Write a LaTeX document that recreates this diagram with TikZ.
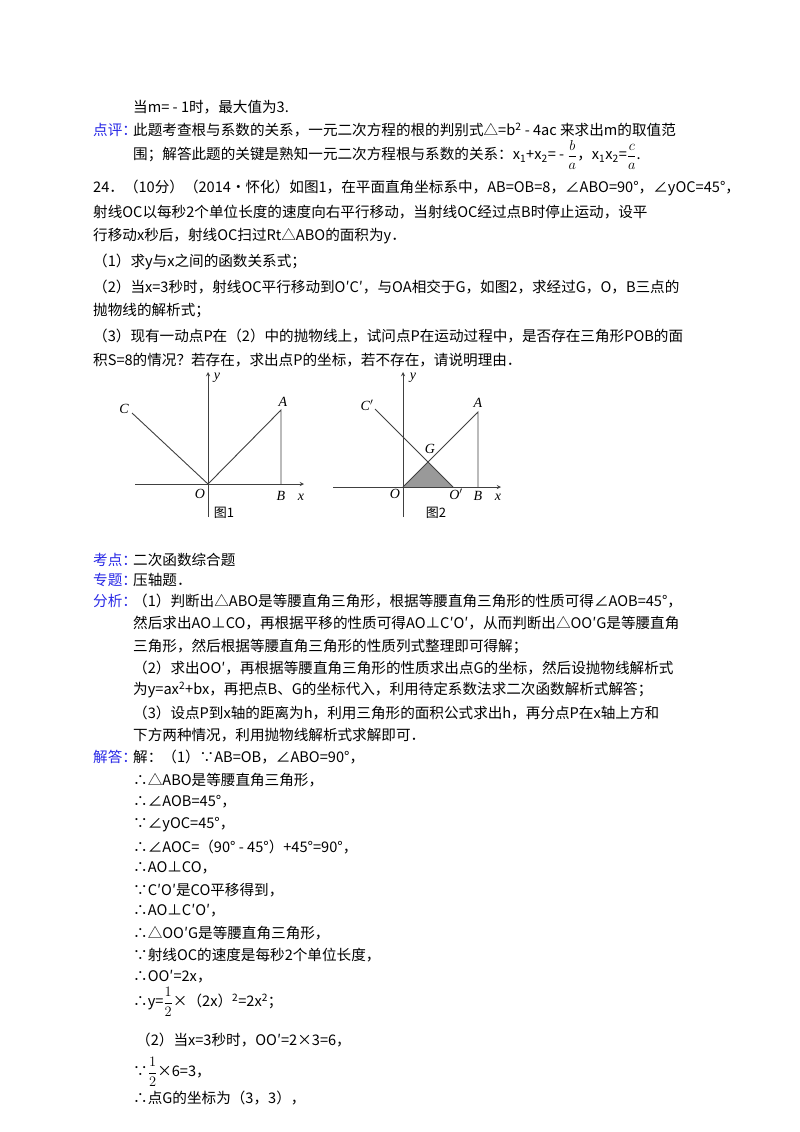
\documentclass[tikz,border=0pt]{standalone}
\usepackage{fontspec}
\setmainfont{Noto Sans CJK SC}
\newfontfamily\lat{Liberation Serif}
\definecolor{lab}{RGB}{40,40,230}
\tikzset{t/.style={anchor=west,inner sep=0pt,font=\fontsize{14.6}{16}\selectfont},
 lb/.style={t,text=lab},
 fl/.style={inner sep=0pt,font=\fontsize{14}{16}\lat\itshape},
 ax/.style={draw=black!75,line width=0.9pt,-stealth},
 ln/.style={draw=black!75,line width=0.9pt}}
\newcommand{\fr}[2]{$\displaystyle\frac{#1}{#2}$}
\begin{document}
\begin{tikzpicture}[x=1pt,y=-1pt]
\useasboundingbox[fill=white] (0,0) rectangle (800,1132);
\node[t] (l1) at (133,107) {当m= - 1时，最大值为3.};
\node[lb] (p1) at (93,130) {点评：};
\node[t] (l2) at (133,130) {此题考查根与系数的关系，一元二次方程的根的判别式△=b\textsuperscript{2} - 4ac 来求出m的取值范};
\node[t] (l3) at (133,155) {围；解答此题的关键是熟知一元二次方程根与系数的关系：x\textsubscript{1}+x\textsubscript{2}= - \fr{b}{a}，x\textsubscript{1}x\textsubscript{2}=\fr{c}{a}.};
\node[t] (q1) at (93,188) {24．（10分）（2014•怀化）如图1，在平面直角坐标系中，AB=OB=8，∠ABO=90°，∠yOC=45°，};
\node[t] (q2) at (93,212) {射线OC以每秒2个单位长度的速度向右平行移动，当射线OC经过点B时停止运动，设平};
\node[t] (q3) at (93,236) {行移动x秒后，射线OC扫过Rt△ABO的面积为y．};
\node[t] (q4) at (93,262) {（1）求y与x之间的函数关系式；};
\node[t] (q5) at (93,287) {（2）当x=3秒时，射线OC平行移动到O′C′，与OA相交于G，如图2，求经过G，O，B三点的};
\node[t] (q6) at (93,311) {抛物线的解析式；};
\node[t] (q7) at (93,336) {（3）现有一动点P在（2）中的抛物线上，试问点P在运动过程中，是否存在三角形POB的面};
\node[t] (q8) at (93,360) {积S=8的情况？若存在，求出点P的坐标，若不存在，请说明理由．};
% figure 1
\coordinate (O1) at (208,484);
\coordinate (X1a) at (135,484); \coordinate (X1b) at (304,484);
\coordinate (Y1a) at (208,517); \coordinate (Y1b) at (208,372);
\coordinate (A1) at (281,410); \coordinate (B1) at (281,484); \coordinate (C1) at (132,413);
\draw[ax] (X1a) -- (X1b); \draw[ax] (Y1a) -- (Y1b);
\draw[ln] (C1) -- (O1) -- (A1) -- (B1);
\node[fl] (nC1) at (124,409) {C}; \node[fl] (ny1) at (217,378) {y};
\node[fl] (nA1) at (283,402) {A}; \node[fl] (nO1) at (200,494) {O};
\node[fl] (nB1) at (281,496) {B}; \node[fl] (nx1) at (301,497) {x};
\node[inner sep=0pt,font=\fontsize{13}{14}\selectfont] (f1) at (224,513) {图1};
% figure 2
\coordinate (O2) at (403,487);
\coordinate (X2a) at (333,487); \coordinate (X2b) at (501,487);
\coordinate (Y2a) at (403,517); \coordinate (Y2b) at (403,372);
\coordinate (A2) at (478,412); \coordinate (B2) at (478,487);
\coordinate (Op) at (453,487); \coordinate (G) at (428,462); \coordinate (C2) at (375,409);
\fill[black!40] (O2) -- (Op) -- (G) -- cycle;
\draw[ax] (X2a) -- (X2b); \draw[ax] (Y2a) -- (Y2b);
\draw[ln] (O2) -- (A2) -- (B2);
\draw[ln] (C2) -- (Op);
\node[fl] (nC2) at (367,405) {C$'$}; \node[fl] (ny2) at (413,378) {y};
\node[fl] (nA2) at (478,403) {A}; \node[fl] (nG) at (430,449) {G};
\node[fl] (nO2) at (395,494) {O}; \node[fl] (nOp) at (456,494) {O$'$};
\node[fl] (nB2) at (478,496) {B}; \node[fl] (nx2) at (498,497) {x};
\node[inner sep=0pt,font=\fontsize{13}{14}\selectfont] (f2) at (436,513) {图2};
% analysis
\node[lb] (k1) at (93,560) {考点：}; \node[t] (k2) at (133,560) {二次函数综合题};
\node[lb] (z1) at (93,580) {专题：}; \node[t] (z2) at (133,580) {压轴题．};
\node[lb] (a0) at (93,601) {分析：};
\node[t] (a1) at (133,601) {（1）判断出△ABO是等腰直角三角形，根据等腰直角三角形的性质可得∠AOB=45°，};
\node[t] (a2) at (133,623) {然后求出AO⊥CO，再根据平移的性质可得AO⊥C′O′，从而判断出△OO′G是等腰直角};
\node[t] (a3) at (133,646) {三角形，然后根据等腰直角三角形的性质列式整理即可得解；};
\node[t] (a4) at (133,668) {（2）求出OO′，再根据等腰直角三角形的性质求出点G的坐标，然后设抛物线解析式};
\node[t] (a5) at (133,690) {为y=ax\textsuperscript{2}+bx，再把点B、G的坐标代入，利用待定系数法求二次函数解析式解答；};
\node[t] (a6) at (133,713) {（3）设点P到x轴的距离为h，利用三角形的面积公式求出h，再分点P在x轴上方和};
\node[t] (a7) at (133,735) {下方两种情况，利用抛物线解析式求解即可．};
\node[lb] (j0) at (93,757) {解答：};
\node[t] (j1) at (133,757) {解：（1）∵AB=OB，∠ABO=90°，};
\node[t] (j2) at (133,780) {∴△ABO是等腰直角三角形，};
\node[t] (j3) at (133,802) {∴∠AOB=45°，};
\node[t] (j4) at (133,825) {∵∠yOC=45°，};
\node[t] (j5) at (133,847) {∴∠AOC=（90° - 45°）+45°=90°，};
\node[t] (j6) at (133,868) {∴AO⊥CO，};
\node[t] (j7) at (133,890) {∵C′O′是CO平移得到，};
\node[t] (j8) at (133,911) {∴AO⊥C′O′，};
\node[t] (j9) at (133,933) {∴△OO′G是等腰直角三角形，};
\node[t] (j10) at (133,955) {∵射线OC的速度是每秒2个单位长度，};
\node[t] (j11) at (133,977) {∴OO′=2x，};
\node[t] (j12) at (133,1002) {∴y=\fr{1}{2}×（2x）\textsuperscript{2}=2x\textsuperscript{2}；};
\node[t] (j13) at (136,1040) {（2）当x=3秒时，OO′=2×3=6，};
\node[t] (j14) at (133,1072) {∵\fr{1}{2}×6=3，};
\node[t] (j15) at (133,1098) {∴点G的坐标为（3，3），};
\end{tikzpicture}
\end{document}
